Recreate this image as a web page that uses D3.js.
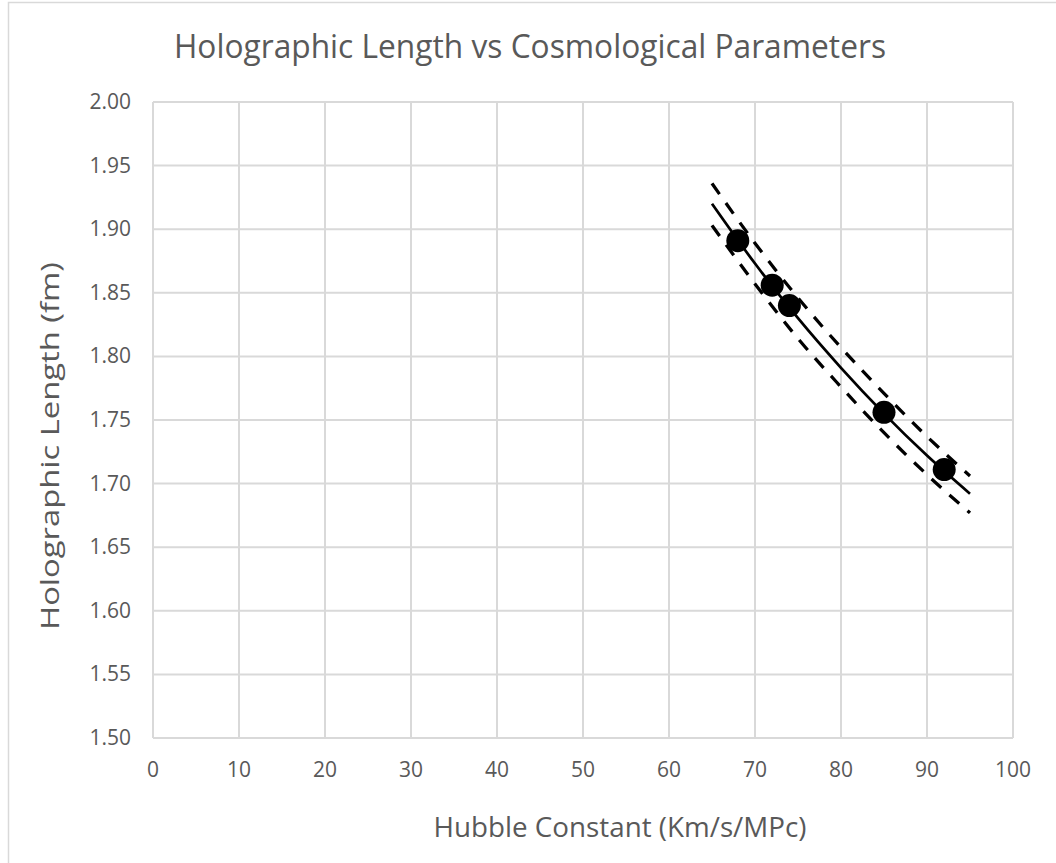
<!DOCTYPE html>
<html>
<head>
<meta charset="utf-8">
<script src="https://cdn.jsdelivr.net/npm/d3@7"></script>
<style>
  body { margin: 0; background: #fff; }
  text { font-family: "Open Sans", sans-serif; fill: #595959; }
</style>
</head>
<body>
<div id="chart"></div>
<script>
// Measured points (Hubble constant vs holographic length)
const hubble = [68, 72, 74, 85, 92];
const holoLength = [1.891, 1.856, 1.840, 1.756, 1.711];

// Trend line and its bands
const trendX = [65, 70, 75, 80, 85, 90, 95];
const trendY = [1.920, 1.873, 1.830, 1.791, 1.755, 1.722, 1.692];
const upperY = [1.936, 1.889, 1.846, 1.807, 1.771, 1.737, 1.706];
const lowerY = [1.903, 1.857, 1.814, 1.776, 1.740, 1.707, 1.677];

const xTicks = [0, 10, 20, 30, 40, 50, 60, 70, 80, 90, 100];
const yTicks = [1.50, 1.55, 1.60, 1.65, 1.70, 1.75, 1.80, 1.85, 1.90, 1.95, 2.00];

function drawChart() {
    var width = 1056,
        height = 863;
    var left = 153, right = 1013, top = 102, bottom = 738;

    var svg = d3.select("#chart").append("svg")
        .attr("width", width)
        .attr("height", height);

    // Outer chart border
    svg.append("rect")
        .attr("x", 8.5).attr("y", 2.5)
        .attr("width", width).attr("height", height)
        .attr("fill", "none")
        .attr("stroke", "#d9d9d9")
        .attr("stroke-width", 1.5);

    var x = d3.scaleLinear().domain([0, 100]).range([left, right]);
    var y = d3.scaleLinear().domain([1.5, 2.0]).range([bottom, top]);

    // Grid lines
    svg.append("g").selectAll("line.v")
        .data(xTicks)
        .enter().append("line")
        .attr("x1", function(d) { return x(d); })
        .attr("x2", function(d) { return x(d); })
        .attr("y1", top).attr("y2", bottom)
        .attr("stroke", "#d9d9d9").attr("stroke-width", 2);

    svg.append("g").selectAll("line.h")
        .data(yTicks)
        .enter().append("line")
        .attr("y1", function(d) { return y(d); })
        .attr("y2", function(d) { return y(d); })
        .attr("x1", left).attr("x2", right)
        .attr("stroke", "#d9d9d9").attr("stroke-width", 2);

    // Tick labels
    svg.append("g").selectAll("text")
        .data(xTicks)
        .enter().append("text")
        .attr("x", function(d) { return x(d); })
        .attr("y", 777)
        .attr("text-anchor", "middle")
        .style("font-size", "21px")
        .text(function(d) { return d; });

    svg.append("g").selectAll("text")
        .data(yTicks)
        .enter().append("text")
        .attr("x", 131)
        .attr("y", function(d) { return y(d) + 7; })
        .attr("text-anchor", "end")
        .style("font-size", "21px")
        .text(function(d) { return d3.format(".2f")(d); });

    // Trend line and dashed bands
    var line = d3.line()
        .curve(d3.curveMonotoneX)
        .x(function(d) { return x(d[0]); })
        .y(function(d) { return y(d[1]); });

    svg.append("path")
        .datum(d3.zip(trendX, trendY))
        .attr("d", line)
        .attr("fill", "none")
        .attr("stroke", "#000")
        .attr("stroke-width", 2.75);

    [upperY, lowerY].forEach(function(band) {
        svg.append("path")
            .datum(d3.zip(trendX, band))
            .attr("d", line)
            .attr("fill", "none")
            .attr("stroke", "#000")
            .attr("stroke-width", 3.25)
            .attr("stroke-dasharray", "13,11");
    });

    // Points
    svg.append("g").selectAll("circle")
        .data(d3.zip(hubble, holoLength))
        .enter().append("circle")
        .attr("cx", function(d) { return x(d[0]); })
        .attr("cy", function(d) { return y(d[1]); })
        .attr("r", 11.5)
        .attr("fill", "#000");

    // Titles
    svg.append("text")
        .attr("x", 530).attr("y", 58)
        .attr("text-anchor", "middle")
        .attr("textLength", 712)
        .attr("lengthAdjust", "spacingAndGlyphs")
        .style("font-size", "33px")
        .text("Holographic Length vs Cosmological Parameters");

    svg.append("text")
        .attr("x", 620).attr("y", 837)
        .attr("text-anchor", "middle")
        .attr("textLength", 373)
        .attr("lengthAdjust", "spacingAndGlyphs")
        .style("font-size", "27px")
        .text("Hubble Constant (Km/s/MPc)");

    svg.append("text")
        .attr("transform", "translate(59,446) rotate(-90)")
        .attr("text-anchor", "middle")
        .attr("textLength", 368)
        .attr("lengthAdjust", "spacingAndGlyphs")
        .style("font-size", "26px")
        .text("Holographic Length (fm)");
}

drawChart();
</script>
</body>
</html>
